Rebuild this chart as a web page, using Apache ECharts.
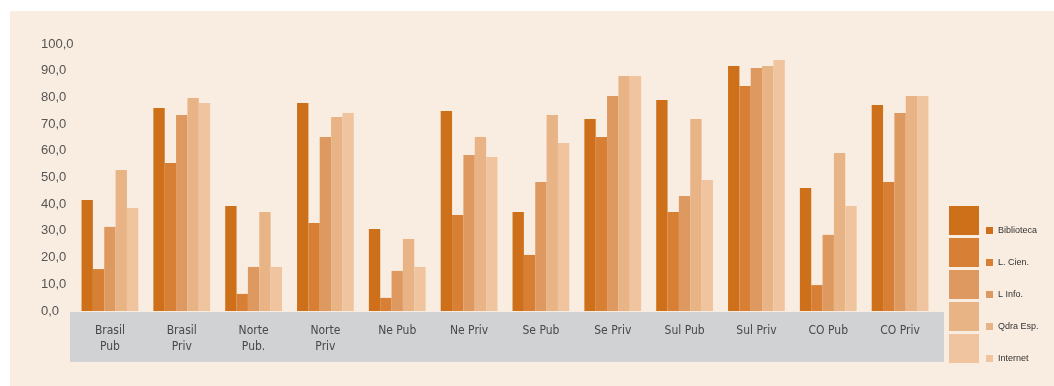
<!DOCTYPE html>
<html>
<head>
<meta charset="utf-8">
<script src="https://cdn.jsdelivr.net/npm/echarts@6/dist/echarts.min.js"></script>
<style>
  html, body { margin: 0; padding: 0; background: #ffffff; }
  #chart { width: 1054px; height: 386px; }
</style>
</head>
<body>
<div id="chart"></div>
<script>
// Categories (region / type of school)
const categories = ['Brasil\nPub', 'Brasil\nPriv', 'Norte\nPub.', 'Norte\nPriv', 'Ne Pub', 'Ne Priv',
                    'Se Pub', 'Se Priv', 'Sul Pub', 'Sul Priv', 'CO Pub', 'CO Priv'];

// Series names
const seriesNames = ['Biblioteca', 'L. Cien.', 'L Info.', 'Qdra Esp.', 'Internet'];

// Values (%) per series, one per category
const biblioteca = [41.6, 76.0, 39.3, 77.9, 30.7, 74.9, 37.1, 71.9, 79.0, 91.8, 46.1, 77.2];
const lCien      = [15.7, 55.4,  6.4, 33.0,  4.9, 36.0, 21.0, 65.2, 37.1, 84.3,  9.7, 48.3];
const lInfo      = [31.5, 73.4, 16.5, 65.2, 15.0, 58.4, 48.3, 80.5, 43.1, 91.0, 28.5, 74.2];
const qdraEsp    = [52.8, 79.8, 37.1, 72.7, 27.0, 65.2, 73.4, 88.0, 71.9, 91.8, 59.2, 80.5];
const internet   = [38.6, 77.9, 16.5, 74.2, 16.5, 57.7, 62.9, 88.0, 49.1, 94.0, 39.3, 80.5];

// Y axis range
const yMin = 0, yMax = 100, yStep = 10;

const seriesValues = [biblioteca, lCien, lInfo, qdraEsp, internet];
const colors = ['#CD7019', '#D77F35', '#DE9961', '#E8B486', '#EFC49F'];

const chart = echarts.init(document.getElementById('chart'), null, { renderer: 'canvas' });

chart.setOption({
  backgroundColor: '#ffffff',
  animation: false,
  color: colors,
  graphic: [
    { type: 'rect', z: -10, shape: { x: 10, y: 11, width: 1044, height: 375 },
      style: { fill: '#F9ECE0' }, silent: true },
    { type: 'rect', z: -5, shape: { x: 70, y: 312, width: 874, height: 50 },
      style: { fill: '#D1D2D4' }, silent: true }
  ],
  grid: { left: 74, right: 118, top: 44, bottom: 75, containLabel: false },
  legend: [
    {
      orient: 'vertical', left: 949, top: 206, padding: 0,
      itemWidth: 30, itemHeight: 29, itemGap: 3,
      icon: 'rect',
      formatter: () => '',
      textStyle: { fontSize: 1, padding: 0 },
      data: seriesNames
    },
    {
      orient: 'vertical', left: 986, top: 226, padding: 0,
      itemWidth: 7, itemHeight: 7, itemGap: 23,
      icon: 'rect',
      textStyle: { fontSize: 9, color: '#333333', fontFamily: 'Liberation Sans, Arial, sans-serif' },
      data: seriesNames
    }
  ],
  xAxis: {
    type: 'category',
    data: categories,
    axisLine: { show: false },
    axisTick: { show: false },
    axisLabel: {
      margin: 12, interval: 0,
      color: '#484848', fontSize: 12, lineHeight: 16,
      fontFamily: '"DejaVu Sans Condensed", "Liberation Sans", Arial, sans-serif'
    }
  },
  yAxis: {
    type: 'value',
    min: yMin, max: yMax, interval: yStep,
    axisLine: { show: false },
    axisTick: { show: false },
    splitLine: { show: false },
    axisLabel: {
      align: 'left', margin: 33,
      color: '#555555', fontSize: 13,
      fontFamily: 'Liberation Sans, Arial, sans-serif',
      formatter: v => v.toFixed(1).replace('.', ',')
    }
  },
  series: seriesNames.map((name, i) => ({
    name,
    type: 'bar',
    data: seriesValues[i],
    barGap: '0%',
    barCategoryGap: '21%',
    itemStyle: { color: colors[i] }
  }))
});
</script>
</body>
</html>
